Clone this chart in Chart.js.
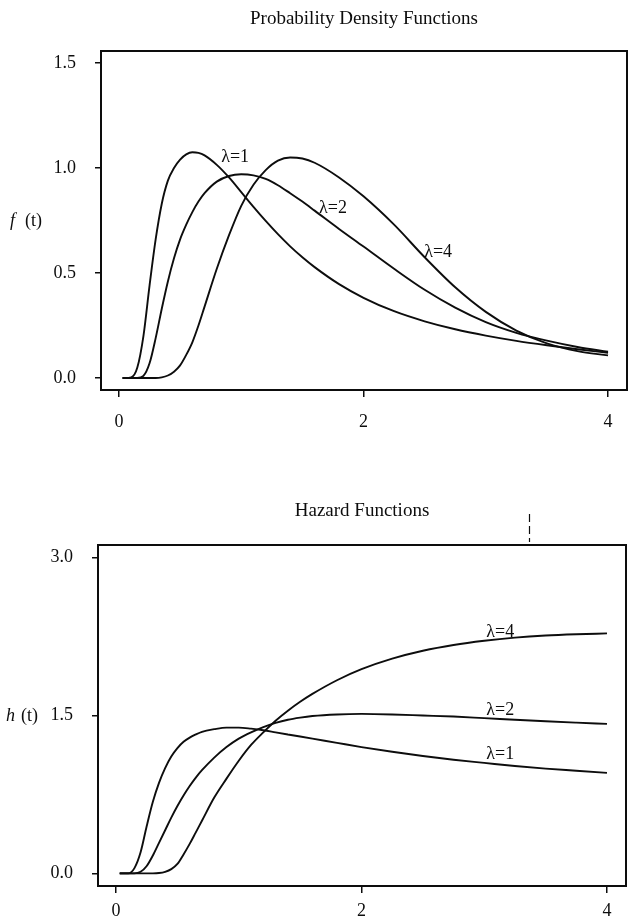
<!DOCTYPE html>
<html>
<head>
<meta charset="utf-8">
<title>Probability Density and Hazard Functions</title>
<script src="https://cdn.jsdelivr.net/npm/chart.js@4.4.0/dist/chart.umd.min.js"></script>
<style>
  html, body { margin: 0; padding: 0; background: #ffffff; }
  #wrap { position: relative; width: 628px; height: 919px; overflow: hidden; }
  canvas { position: absolute; left: 0; }
  #pdf { top: 0; }
  #haz { top: 450px; }
</style>
</head>
<body>
<div id="wrap">
  <canvas id="pdf" width="628" height="450"></canvas>
  <canvas id="haz" width="628" height="469"></canvas>
</div>
<script>
// Time grid shared by all curves
const times = [0.03, 0.05, 0.1, 0.15, 0.2, 0.25, 0.3, 0.35, 0.4, 0.45, 0.5, 0.55, 0.6, 0.65, 0.7,
               0.8, 0.9, 1.0, 1.1, 1.2, 1.3, 1.4, 1.5, 1.6, 1.8, 2.0, 2.25, 2.5, 2.75, 3.0, 3.25, 3.5, 3.75, 4.0];

// Density f(t) for each lambda
const pdfLambda1 = [0, 0, 0.003, 0.05, 0.20, 0.44, 0.66, 0.83, 0.94, 1.00, 1.04, 1.065, 1.075, 1.072, 1.06,
                    1.015, 0.955, 0.885, 0.815, 0.748, 0.685, 0.627, 0.575, 0.528, 0.447, 0.382, 0.318, 0.27, 0.232, 0.202, 0.177, 0.156, 0.137, 0.12];
const pdfLambda2 = [0, 0, 0, 0, 0.01, 0.07, 0.19, 0.33, 0.46, 0.57, 0.66, 0.73, 0.79, 0.84, 0.88,
                    0.935, 0.962, 0.97, 0.965, 0.948, 0.918, 0.88, 0.84, 0.797, 0.71, 0.626, 0.52, 0.42, 0.335, 0.266, 0.215, 0.178, 0.148, 0.125];
const pdfLambda4 = [0, 0, 0, 0, 0, 0, 0, 0.003, 0.012, 0.03, 0.06, 0.11, 0.17, 0.25, 0.34,
                    0.52, 0.68, 0.82, 0.92, 0.99, 1.035, 1.05, 1.045, 1.025, 0.955, 0.865, 0.73, 0.575, 0.432, 0.315, 0.226, 0.165, 0.128, 0.108];

// Hazard h(t) for each lambda
const hazLambda1 = [0, 0, 0, 0.05, 0.20, 0.45, 0.68, 0.86, 1.00, 1.11, 1.19, 1.25, 1.29, 1.32, 1.345,
                    1.37, 1.385, 1.385, 1.375, 1.36, 1.34, 1.32, 1.30, 1.28, 1.24, 1.20, 1.155, 1.115, 1.08, 1.05, 1.02, 0.995, 0.975, 0.955];
const hazLambda2 = [0, 0, 0, 0, 0.015, 0.07, 0.17, 0.29, 0.41, 0.53, 0.64, 0.74, 0.83, 0.91, 0.98,
                    1.10, 1.20, 1.28, 1.34, 1.39, 1.43, 1.46, 1.48, 1.495, 1.51, 1.515, 1.51, 1.50, 1.49, 1.475, 1.46, 1.445, 1.432, 1.42];
const hazLambda4 = [0, 0, 0, 0, 0, 0, 0, 0.003, 0.015, 0.04, 0.09, 0.18, 0.28, 0.39, 0.50,
                    0.72, 0.90, 1.07, 1.22, 1.34, 1.45, 1.545, 1.63, 1.705, 1.835, 1.94, 2.04, 2.115, 2.17, 2.21, 2.24, 2.26, 2.272, 2.28];

const seriesNames = ['λ=1', 'λ=2', 'λ=4'];

// Axis ticks
const xTicks = [0, 2, 4];
const xTickLabels = ['0', '2', '4'];
const pdfTicks = [0, 0.5, 1.0, 1.5];
const pdfTickLabels = ['0.0', '0.5', '1.0', '1.5'];
const hazTicks = [0, 1.5, 3.0];
const hazTickLabels = ['0.0', '1.5', '3.0'];

// Where the curve names sit, in data units [t, value]
const pdfLabelSpots = [[0.95, 1.052], [1.75, 0.81], [2.61, 0.60]];
const hazLabelSpots = [[3.13, 1.133], [3.13, 1.552], [3.13, 2.295]];

const SERIF = '"Liberation Serif", "Times New Roman", Times, serif';
const INK = '#0d0d0d';
Chart.defaults.font.family = SERIF;
Chart.defaults.color = INK;

function toPoints(ys) {
  return times.map((t, i) => ({ x: t, y: ys[i] }));
}

function makeDatasets(list) {
  return list.map((ys, i) => ({
    label: seriesNames[i],
    data: toPoints(ys),
    borderColor: INK,
    borderWidth: 1.9,
    pointRadius: 0,
    fill: false,
    cubicInterpolationMode: 'monotone'
  }));
}

// Box round the plotting region, curve names and the y-axis caption
function panelDecor(opts) {
  return {
    id: 'panelDecor',
    afterDatasetsDraw(chart) {
      const { ctx, chartArea: a, scales } = chart;
      ctx.save();
      ctx.strokeStyle = INK;
      ctx.lineWidth = 2;
      ctx.strokeRect(a.left, a.top, a.right - a.left, a.bottom - a.top);

      ctx.fillStyle = INK;
      ctx.textAlign = 'center';
      ctx.textBaseline = 'middle';
      ctx.font = '18px ' + SERIF;
      opts.labelSpots.forEach((p, i) => {
        ctx.fillText(seriesNames[i], scales.x.getPixelForValue(p[0]), scales.y.getPixelForValue(p[1]));
      });

      const midY = (a.top + a.bottom) / 2 + 1;
      ctx.textAlign = 'left';
      ctx.font = 'italic 18px ' + SERIF;
      ctx.fillText(opts.symbol, opts.captionX, midY);
      ctx.font = '18px ' + SERIF;
      ctx.fillText('(t)', opts.captionX + 15, midY);

      if (opts.guideAt !== undefined) {
        const gx = Math.round(scales.x.getPixelForValue(opts.guideAt)) + 0.5;
        ctx.lineWidth = 1.2;
        ctx.setLineDash([8, 4]);
        ctx.beginPath();
        ctx.moveTo(gx, a.top - 31);
        ctx.lineTo(gx, a.top - 3);
        ctx.stroke();
      }
      ctx.restore();
    }
  };
}

function makeChart(canvasId, cfg) {
  return new Chart(document.getElementById(canvasId), {
    type: 'line',
    data: { datasets: makeDatasets(cfg.series) },
    options: {
      responsive: false,
      animation: false,
      events: [],
      layout: { padding: { left: 0, right: cfg.padRight, top: 0, bottom: 0 } },
      plugins: {
        legend: { display: false },
        tooltip: { enabled: false },
        title: {
          display: true,
          fullSize: false,
          text: cfg.title,
          color: INK,
          font: { size: 19, weight: 'normal', family: SERIF },
          padding: cfg.titlePadding
        }
      },
      scales: {
        x: {
          type: 'linear',
          min: -0.147,
          max: 4.155,
          afterBuildTicks: s => { s.ticks = xTicks.map(v => ({ value: v })); },
          afterFit: s => { s.height = cfg.xAxisHeight; },
          grid: { display: true, drawOnChartArea: false, drawTicks: true, tickLength: 7, color: INK, lineWidth: 1.5 },
          border: { display: false },
          ticks: {
            autoSkip: false,
            maxRotation: 0,
            padding: cfg.xTickPad,
            font: { size: 18 },
            color: INK,
            callback: (v, i) => xTickLabels[i]
          }
        },
        y: {
          type: 'linear',
          min: cfg.yMin,
          max: cfg.yMax,
          afterBuildTicks: s => { s.ticks = cfg.yTicks.map(v => ({ value: v })); },
          afterFit: s => { s.width = cfg.yAxisWidth; },
          grid: { display: true, drawOnChartArea: false, drawTicks: true, tickLength: 6, color: INK, lineWidth: 1.5 },
          border: { display: false },
          ticks: {
            autoSkip: false,
            padding: 19,
            font: { size: 18 },
            color: INK,
            callback: (v, i) => cfg.yTickLabels[i]
          }
        }
      }
    },
    plugins: [panelDecor(cfg.decor)]
  });
}

makeChart('pdf', {
  series: [pdfLambda1, pdfLambda2, pdfLambda4],
  title: 'Probability Density Functions',
  titlePadding: { top: 7.6, bottom: 20.6 },
  padRight: 1,
  xAxisHeight: 60,
  xTickPad: 14,
  yAxisWidth: 101,
  yMin: -0.057,
  yMax: 1.557,
  yTicks: pdfTicks,
  yTickLabels: pdfTickLabels,
  decor: { labelSpots: pdfLabelSpots, symbol: 'f', captionX: 10 }
});

makeChart('haz', {
  series: [hazLambda1, hazLambda2, hazLambda4],
  title: 'Hazard Functions',
  titlePadding: { top: 50.1, bottom: 22.1 },
  padRight: 2,
  xAxisHeight: 33,
  xTickPad: 7,
  yAxisWidth: 98,
  yMin: -0.12,
  yMax: 3.12,
  yTicks: hazTicks,
  yTickLabels: hazTickLabels,
  decor: { labelSpots: hazLabelSpots, symbol: 'h', captionX: 6, guideAt: 3.365 }
});
</script>
</body>
</html>
